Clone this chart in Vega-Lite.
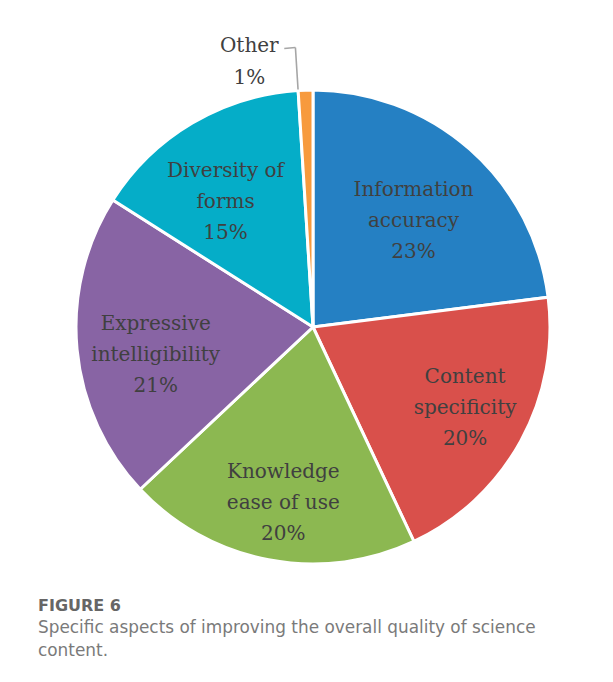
{
  "$schema": "https://vega.github.io/schema/vega-lite/v6.json",
  "width": 474,
  "height": 474,
  "autosize": {"type": "none"},
  "padding": {"left": 76, "top": 90, "right": 63, "bottom": 118},
  "background": "white",
  "config": {
    "view": {"stroke": null},
    "text": {"font": "DejaVu Serif", "fontSize": 20, "color": "#404040", "lineBreak": "\n", "lineHeight": 31, "align": "center", "baseline": "middle"}
  },
  "title": {
    "text": "FIGURE 6",
    "subtitle": ["Specific aspects of improving the overall quality of science", "content."],
    "orient": "bottom",
    "anchor": "start",
    "dx": -32,
    "offset": 27.5,
    "font": "DejaVu Sans",
    "fontSize": 16,
    "fontWeight": "bold",
    "color": "#666666",
    "subtitleFont": "DejaVu Sans",
    "subtitleFontSize": 16.9,
    "subtitleColor": "#7a7a7a",
    "subtitleLineHeight": 23,
    "subtitlePadding": 6
  },
  "data": {
    "values": [
      {"idx": 1, "name": "Information accuracy", "lines": "Information\naccuracy", "pct": 23},
      {"idx": 2, "name": "Content specificity", "lines": "Content\nspecificity", "pct": 20},
      {"idx": 3, "name": "Knowledge ease of use", "lines": "Knowledge\nease of use", "pct": 20},
      {"idx": 4, "name": "Expressive intelligibility", "lines": "Expressive\nintelligibility", "pct": 21},
      {"idx": 5, "name": "Diversity of forms", "lines": "Diversity of\nforms", "pct": 15},
      {"idx": 6, "name": "Other", "lines": "Other", "pct": 1}
    ]
  },
  "transform": [
    {"calculate": "datum.lines + '\\n' + datum.pct + '%'", "as": "label"},
    {"stack": "pct", "groupby": [], "sort": [{"field": "idx", "order": "ascending"}], "as": ["p0", "p1"]},
    {"calculate": "(datum.p0 + datum.p1) / 2", "as": "mid"}
  ],
  "layer": [
    {
      "mark": {"type": "arc", "outerRadius": 237, "stroke": "white", "strokeWidth": 3},
      "encoding": {
        "theta": {"field": "p0", "type": "quantitative", "scale": {"domain": [0, 100]}},
        "theta2": {"field": "p1"},
        "color": {
          "field": "name",
          "type": "nominal",
          "legend": null,
          "scale": {
            "domain": ["Information accuracy", "Content specificity", "Knowledge ease of use", "Expressive intelligibility", "Diversity of forms", "Other"],
            "range": ["#2580c3", "#d9504b", "#8cb851", "#8864a4", "#05adc8", "#f79a3d"]
          }
        }
      }
    },
    {
      "transform": [{"filter": "datum.name === 'Other'"}],
      "mark": {"type": "arc", "filled": false, "stroke": "#a6a6a6", "strokeWidth": 1.6},
      "encoding": {
        "theta": {"field": "p0", "type": "quantitative", "scale": {"domain": [0, 100]}},
        "theta2": {"field": "p0"},
        "radius": {"value": 280},
        "radius2": {"value": 238}
      }
    },
    {
      "transform": [{"filter": "datum.name === 'Other'"}],
      "mark": {"type": "arc", "filled": false, "stroke": "#a6a6a6", "strokeWidth": 1.6, "theta2Offset": -0.04},
      "encoding": {
        "theta": {"field": "p0", "type": "quantitative", "scale": {"domain": [0, 100]}},
        "theta2": {"field": "p0"},
        "radius": {"value": 280},
        "radius2": {"value": 280}
      }
    },
    {
      "transform": [{"filter": "datum.name === 'Information accuracy'"}],
      "mark": {"type": "text", "dy": -23},
      "encoding": {
        "theta": {"field": "mid", "type": "quantitative", "scale": {"domain": [0, 100]}},
        "radius": {"value": 152},
        "text": {"field": "label"}
      }
    },
    {
      "transform": [{"filter": "datum.name === 'Content specificity'"}],
      "mark": {"type": "text", "dx": 4, "dy": -31},
      "encoding": {
        "theta": {"field": "mid", "type": "quantitative", "scale": {"domain": [0, 100]}},
        "radius": {"value": 169},
        "text": {"field": "label"}
      }
    },
    {
      "transform": [{"filter": "datum.name === 'Knowledge ease of use'"}],
      "mark": {"type": "text", "dx": 2, "dy": -21},
      "encoding": {
        "theta": {"field": "mid", "type": "quantitative", "scale": {"domain": [0, 100]}},
        "radius": {"value": 169},
        "text": {"field": "label"}
      }
    },
    {
      "transform": [{"filter": "datum.name === 'Expressive intelligibility'"}],
      "mark": {"type": "text", "dx": 2, "dy": -18},
      "encoding": {
        "theta": {"field": "mid", "type": "quantitative", "scale": {"domain": [0, 100]}},
        "radius": {"value": 160},
        "text": {"field": "label"}
      }
    },
    {
      "transform": [{"filter": "datum.name === 'Diversity of forms'"}],
      "mark": {"type": "text", "dx": -6, "dy": -18},
      "encoding": {
        "theta": {"field": "mid", "type": "quantitative", "scale": {"domain": [0, 100]}},
        "radius": {"value": 160},
        "text": {"field": "label"}
      }
    },
    {
      "transform": [{"filter": "datum.name === 'Other'"}],
      "mark": {"type": "text", "lineHeight": 32, "dx": -55, "dy": -5},
      "encoding": {
        "theta": {"field": "mid", "type": "quantitative", "scale": {"domain": [0, 100]}},
        "radius": {"value": 276},
        "text": {"field": "label"}
      }
    }
  ]
}
